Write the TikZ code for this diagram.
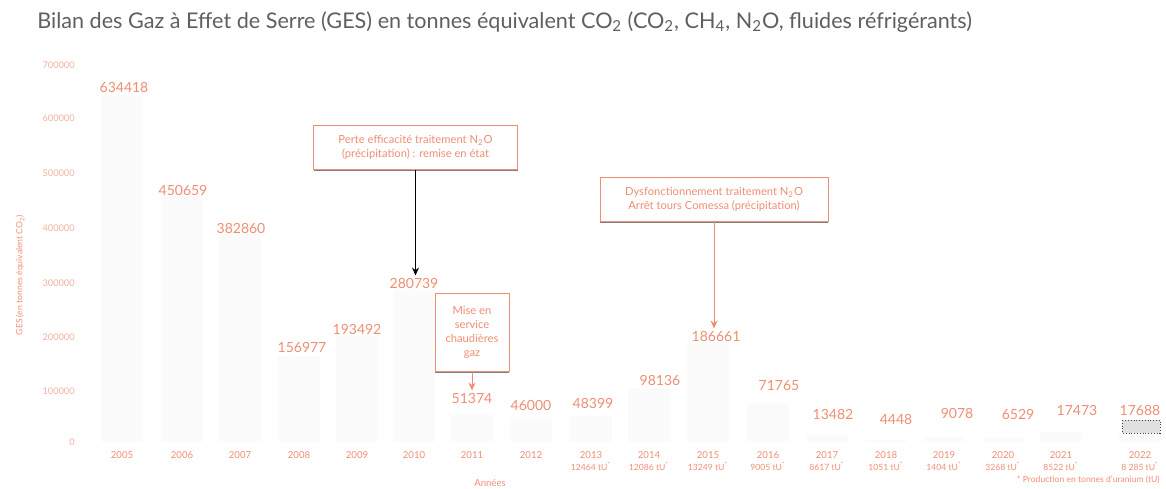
\documentclass[tikz,border=0pt]{standalone}
\usepackage{fontspec}
\setmainfont{Lato}
\usetikzlibrary{arrows.meta,shadows}
\definecolor{salmon}{RGB}{238,142,116}
\definecolor{ttl}{RGB}{95,95,95}
\definecolor{barc}{RGB}{251,251,251}
\begin{document}
\begin{tikzpicture}[x=0.5pt,y=-0.5pt,
  title/.style={font=\fontsize{10.8pt}{12pt}\selectfont, text=ttl, anchor=west, inner sep=0pt},
  val/.style={font=\fontsize{7pt}{8pt}\selectfont, text=salmon, inner sep=1pt},
  yr/.style={font=\fontsize{4.8pt}{6pt}\selectfont, text=salmon, inner sep=0pt},
  sub/.style={font=\fontsize{4.3pt}{5pt}\selectfont, text=salmon, inner sep=0pt},
  tick/.style={font=\fontsize{4.6pt}{5pt}\selectfont, text=salmon!70, anchor=east, inner sep=0pt},
  ann/.style={draw=salmon, fill=white, text=salmon, font=\fontsize{5.6pt}{7pt}\selectfont,
     align=center, inner sep=1pt, drop shadow={shadow xshift=0pt, shadow yshift=-0.8pt, fill=black!50, opacity=1}},
  arr/.style={-{Stealth[length=4pt,width=3.5pt]}, line width=0.5pt}
]
\useasboundingbox (0,0) rectangle (1166,488);
% bars (very faint)
\foreach \x/\v in {122/634.418,182/450.659,240/382.860,299/156.977,357/193.492,414/280.739,472/51.374,531/46.000,591/48.399,649/98.136,708/186.661,768/71.765,827/13.482,886/4.448,944/9.078,1003/6.529,1061/17.473,1140/17.688}
  \fill[barc] (\x-21,442) rectangle (\x+21,{442-\v*0.546});
% title
\node[title] (ttl) at (37,22) {Bilan des Gaz à Effet de Serre (GES) en tonnes équivalent CO\textsubscript{2} (CO\textsubscript{2}, CH\textsubscript{4}, N\textsubscript{2}O, fluides réfrigérants)};
% y ticks
\foreach \y/\t in {65/700000,118/600000,173/500000,228/400000,283/300000,337/200000,391/100000,442/0}
  \node[tick] at (75,\y) {\t};
\node[font=\fontsize{4.3pt}{5pt}\selectfont, text=salmon, rotate=90, inner sep=0pt] (ytitle) at (20,275) {GES (en tonnes équivalent CO\textsubscript{2})};
% years
\foreach \x/\t in {122/2005,182/2006,240/2007,299/2008,357/2009,414/2010,472/2011,531/2012,591/2013,649/2014,708/2015,768/2016,827/2017,886/2018,944/2019,1003/2020,1061/2021,1140/2022}
  \node[yr] (y\t) at (\x,455) {\t};
\foreach \x/\t in {591/12464,649/12086,708/13249,768/9005,827/8617,886/1051,944/1404,1003/3268,1061/8522,1140/8 285}
  \node[sub] at (\x,466) {\t\ tU\textsuperscript{*}};
\node[font=\fontsize{4.8pt}{5pt}\selectfont, text=salmon, inner sep=0pt] (xtitle) at (490,483) {Années};
\node[font=\fontsize{4.3pt}{5pt}\selectfont, text=salmon, anchor=east, inner sep=0pt] (foot) at (1160,480) {* Production en tonnes d'uranium (tU)};
% values
\node[val] (v2005) at (124,87) {634418};
\node[val] (v2006) at (183,190) {450659};
\node[val] (v2007) at (241,228) {382860};
\node[val] (v2008) at (302,347) {156977};
\node[val] (v2009) at (357,329) {193492};
\node[val] (v2010) at (414,283) {280739};
\node[val] (v2011) at (472,398) {51374};
\node[val] (v2012) at (531,405) {46000};
\node[val] (v2013) at (593,403) {48399};
\node[val] (v2014) at (660,380) {98136};
\node[val] (v2015) at (716,336) {186661};
\node[val] (v2016) at (779,386) {71765};
\node[val] (v2017) at (833,414) {13482};
\node[val] (v2018) at (896,419) {4448};
\node[val] (v2019) at (957,413) {9078};
\node[val] (v2020) at (1018,414) {6529};
\node[val] (v2021) at (1077,410) {17473};
\node[val] (v2022) at (1140,410) {17688};
\draw[black!75, densely dotted, fill=black!12] (1122,420) rectangle (1160,433);
% annotations
\node[ann, minimum width=102pt, minimum height=22pt] (b1) at (415.5,147.5) {Perte efficacité traitement N\textsubscript{2}O\\(précipitation) : remise en état};
\node[ann, minimum width=114pt, minimum height=22pt] (b2) at (714,199.5) {Dysfonctionnement traitement N\textsubscript{2}O\\Arrêt tours Comessa (précipitation)};
\node[ann, minimum width=37pt, minimum height=39pt, inner sep=0.5pt] (b3) at (472,332.5) {Mise en\\service\\chaudières\\gaz};
\draw[arr, black] (b1.south) -- (b1.south |- v2010.north);
\draw[arr, salmon] (b2.south) -- (b2.south |- v2015.north);
\draw[arr, salmon] (b3.south) -- (b3.south |- v2011.north);
\end{tikzpicture}
\end{document}
